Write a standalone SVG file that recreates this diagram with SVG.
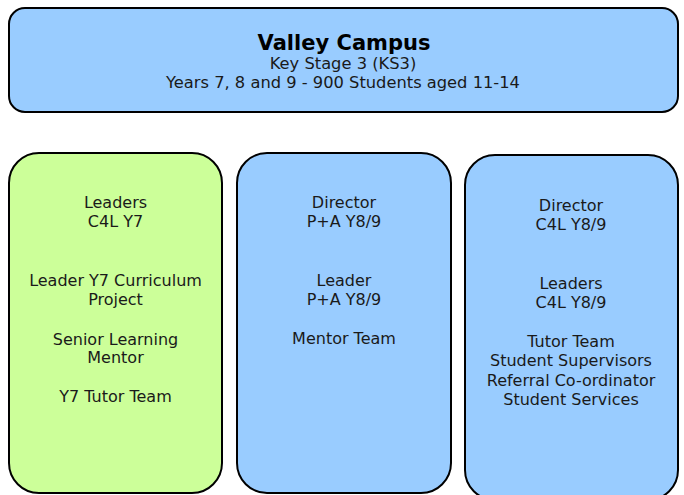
<svg xmlns="http://www.w3.org/2000/svg" width="684" height="495" viewBox="0 0 684 495">
<style>
.box{stroke:#000;stroke-width:2}
.blue{fill:#99ccff}
.green{fill:#ccff99}
text{font-family:"DejaVu Sans",Verdana,sans-serif;font-size:16px;fill:#1a1a1a;text-anchor:middle}
.sub{font-size:16.3px}
.title{font-size:21px;font-weight:bold;fill:#000}
</style>
<rect width="684" height="495" fill="#fff"/>
<g id="top">
<rect class="box blue" x="9" y="8" width="669" height="104" rx="16"/>
<text class="title" x="344" y="50">Valley Campus</text>
<text class="sub" x="343" y="69">Key Stage 3 (KS3)</text>
<text class="sub" x="343" y="88">Years 7, 8 and 9 - 900 Students aged 11-14</text>
</g>
<g id="y7">
<rect class="box green" x="9" y="153" width="213" height="340" rx="30"/>
<text x="115.5" y="208">Leaders</text>
<text x="115.5" y="227">C4L Y7</text>
<text x="115.5" y="286">Leader Y7 Curriculum</text>
<text x="115.5" y="305">Project</text>
<text x="115.5" y="345">Senior Learning</text>
<text x="115.5" y="363">Mentor</text>
<text x="115.5" y="402">Y7 Tutor Team</text>
</g>
<g id="pa">
<rect class="box blue" x="237" y="153" width="214" height="340" rx="30"/>
<text x="344" y="208">Director</text>
<text x="344" y="227">P+A Y8/9</text>
<text x="344" y="286">Leader</text>
<text x="344" y="305">P+A Y8/9</text>
<text x="344" y="344">Mentor Team</text>
</g>
<g id="c4l">
<rect class="box blue" x="465" y="155" width="213" height="345" rx="30"/>
<text x="571" y="211">Director</text>
<text x="571" y="230">C4L Y8/9</text>
<text x="571" y="289">Leaders</text>
<text x="571" y="308">C4L Y8/9</text>
<text x="571" y="347">Tutor Team</text>
<text x="571" y="366">Student Supervisors</text>
<text x="571" y="386">Referral Co-ordinator</text>
<text x="571" y="405">Student Services</text>
</g>
<g id="connectors"></g>
</svg>
